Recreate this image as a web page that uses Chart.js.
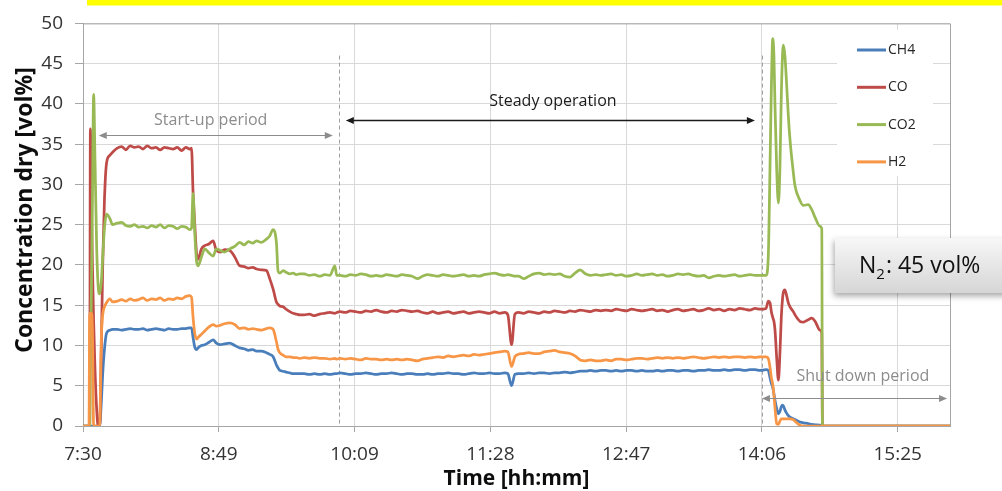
<!DOCTYPE html>
<html>
<head>
<meta charset="utf-8">
<script src="https://cdn.jsdelivr.net/npm/chart.js@4.4.1/dist/chart.umd.min.js"></script>
<style>
  html, body { margin: 0; padding: 0; background: #fff; }
  #wrap { width: 1002px; height: 491px; }
</style>
</head>
<body>
<div id="wrap"><canvas id="chart_gas" width="1002" height="491"></canvas></div>
<script>
/* time axis: minutes after 7:30 */
var minutes = [
  0, 3.5, 3.9, 4.3, 4.9, 5.5, 6.2, 7.0, 8.0, 8.8, 9.7, 10.7, 11.5, 12.5, 13.7, 15.6, 17.3,
  20, 22.5, 25, 27.5, 30, 32.5, 35, 37.5, 40, 42.5, 45, 47.5, 50, 52.5, 55, 57.5, 60, 62.3,
  63.3, 64.2, 65.2, 66.2, 67.1, 69.1, 71.0, 73.5, 75.9, 77.8, 80, 82.5, 85.6, 88.5, 91.4, 94, 96.5, 99, 101.2, 104, 107.0, 108.9, 110.9, 112.8, 113.8, 114.8, 116.7, 118.5, 120.6, 122.5, 124.5, 126.4,
  129, 132, 135, 138, 141, 144, 146.9, 148, 150, 153, 156, 159, 162, 165, 168, 171, 174, 177, 180, 183, 186, 189, 192, 195, 198, 201, 204, 207, 210, 213, 216, 219, 222, 225, 228, 231, 234, 237, 240, 243, 246, 247.8, 250, 251.9,
  254, 257, 260, 263, 266, 269, 272, 275, 278, 281, 284, 287, 290, 293, 296, 299, 302, 305, 308, 311, 314, 317, 320, 323, 326, 329, 332, 335, 338, 341, 344, 347, 350, 353, 356, 359, 362, 365, 368, 371, 374, 377, 380, 383, 386, 389, 392, 395,
  398.4, 399.7, 400.7, 401.5, 402.3, 403.0, 403.6, 404.6, 405.6, 406.5, 407.3, 408.1, 408.5, 409.4, 410.4, 411.4, 412.4, 414.3, 415.3, 418.2, 420.1, 423.0, 425.0, 427.0, 429.9, 430.9, 431.3, 440, 505.7
];
var ch4 = [
  0, 0, 0, 0, 0, 0, 0, 0, 0, 0, 0, 3, 6.5, 9.5, 11.5, 11.9, 12.0,
  12.0, 11.9, 12.0, 12.1, 12.0, 12.0, 12.1, 11.9, 12.0, 12.1, 12.0, 11.9, 12.1, 12.0, 12.0, 12.1, 12.1, 12.2,
  12.2, 11.0, 9.8, 9.5, 9.7, 10.0, 10.1, 10.4, 10.7, 10.3, 10.1, 10.2, 10.3, 10.0, 9.7, 9.6, 9.4, 9.5, 9.3, 9.3, 9.1, 8.9, 8.6, 7.6, 7.2, 6.9, 6.8, 6.7, 6.6, 6.5, 6.5, 6.5,
  6.5, 6.4, 6.5, 6.4, 6.5, 6.4, 6.5, 6.5, 6.6, 6.5, 6.4, 6.5, 6.5, 6.6, 6.5, 6.4, 6.5, 6.5, 6.6, 6.5, 6.4, 6.5, 6.5, 6.4, 6.4, 6.5, 6.4, 6.5, 6.5, 6.6, 6.5, 6.5, 6.4, 6.5, 6.6, 6.5, 6.5, 6.6, 6.5, 6.5, 6.6, 6.5, 5.0, 6.4,
  6.5, 6.5, 6.6, 6.5, 6.6, 6.6, 6.5, 6.6, 6.6, 6.7, 6.6, 6.7, 6.8, 6.8, 6.9, 6.8, 6.9, 6.9, 6.8, 6.9, 6.8, 6.9, 6.9, 6.8, 6.9, 6.8, 6.8, 6.9, 6.8, 6.9, 6.9, 6.8, 6.9, 6.9, 6.8, 6.9, 6.9, 7.0, 6.9, 6.9, 7.0, 6.9, 7.0, 7.0, 6.9, 7.0, 7.0, 6.9,
  7.0, 6.9, 6.0, 5.3, 4.8, 4.0, 3.2, 2.2, 1.5, 1.8, 2.4, 2.6, 2.5, 2.0, 1.6, 1.3, 1.1, 0.9, 0.8, 0.5, 0.4, 0.3, 0.2, 0.15, 0.1, 0.05, 0, 0, 0
];
var co = [
  0, 0, 0, 36.9, 28, 20, 13, 7, 2, 0, 0, 10, 20, 28, 32.6, 33.6, 34.0,
  34.5, 34.7, 34.3, 34.8, 34.6, 34.7, 34.4, 34.8, 34.5, 34.6, 34.3, 34.6, 34.5, 34.4, 34.6, 34.2, 34.6, 34.4,
  34.5, 29, 25, 21.5, 20.7, 22.0, 22.4, 22.6, 23.0, 21.8, 21.6, 21.9, 21.8, 21.0, 19.9, 19.8, 19.6, 19.7, 19.5, 19.4, 19.3, 18.3, 17.0, 15.4, 15.1, 14.9, 14.8, 14.5, 14.2, 14.0, 13.9, 13.8,
  13.8, 13.9, 13.7, 13.9, 14.0, 14.1, 14.0, 14.1, 14.2, 14.1, 14.3, 14.2, 14.1, 14.3, 14.2, 14.4, 14.2, 14.1, 14.3, 14.2, 14.4, 14.3, 14.2, 14.3, 14.1, 14.0, 14.2, 14.0, 14.1, 14.2, 14.0, 14.1, 14.2, 14.0, 14.1, 14.2, 14.1, 14.0, 14.2, 14.0, 14.1, 13.8, 10.1, 13.9,
  14.1, 14.0, 14.2, 14.1, 14.0, 14.2, 14.1, 14.3, 14.2, 14.1, 14.3, 14.2, 14.4, 14.3, 14.2, 14.4, 14.3, 14.4, 14.3, 14.5, 14.4, 14.3, 14.5, 14.4, 14.3, 14.4, 14.5, 14.3, 14.4, 14.2, 14.4, 14.5, 14.3, 14.4, 14.5, 14.3, 14.4, 14.6, 14.4, 14.5, 14.3, 14.5, 14.4, 14.6, 14.5, 14.4, 14.6, 14.5,
  14.6, 15.5, 15.3, 14.2, 13.5, 13.0, 12.0, 8.5, 5.7, 9.0, 13.5, 16.0, 16.6, 16.9, 16.2, 15.3, 14.8, 14.2, 13.8, 13.0, 12.9, 13.2, 13.4, 13.0, 11.9, 11.6, 0, 0, 0
];
var co2 = [
  0, 0, 0, 7, 17, 28, 41.2, 33, 22, 17.5, 16.4, 18, 21, 24.5, 26.3, 25.8, 25.0,
  25.2, 25.3, 24.9, 24.8, 25.0, 24.7, 24.8, 24.6, 24.9, 24.7, 25.0, 24.6, 24.9, 24.8, 24.5, 24.8, 24.7, 24.4,
  24.6, 28.9, 24.0, 20.5, 19.9, 21.0, 22.0, 21.5, 21.1, 22.0, 21.8, 21.6, 22.0, 22.3, 22.8, 22.5, 22.9, 22.7, 23.0, 22.8, 23.2, 23.6, 24.4, 22.8, 19.2, 19.0, 19.3, 19.1, 18.9, 19.0, 18.8, 18.9,
  18.9, 18.7, 18.8, 18.6, 18.8, 18.7, 19.9, 18.7, 18.7, 18.6, 18.8, 18.7, 18.9, 18.8, 18.6, 18.7, 18.6, 18.8, 18.7, 18.6, 18.8, 18.7, 18.6, 18.3, 18.6, 18.8, 18.7, 18.6, 18.8, 18.7, 18.6, 18.7, 18.8, 18.6, 18.7, 18.6, 18.8, 18.9, 19.0, 18.8, 18.7, 18.8, 18.7, 18.6,
  18.6, 18.3, 18.6, 18.9, 19.0, 18.8, 18.9, 18.8, 18.9, 18.6, 18.5, 19.0, 19.4, 18.9, 18.7, 18.8, 18.7, 18.8, 18.9, 18.7, 18.8, 18.6, 18.7, 18.9, 18.7, 18.8, 18.9, 18.7, 18.8, 18.6, 18.7, 18.9, 18.8, 18.9, 18.7, 18.6, 18.7, 18.4, 18.6, 18.7, 18.6, 18.7, 18.8, 18.6, 18.7, 18.8, 18.7, 18.7,
  18.7, 21, 32, 42, 48.1, 46, 40, 32, 27.7, 32, 41, 46.5, 47.3, 46, 42.5, 38.5, 35.5, 31.5, 29.8, 28.0, 27.4, 27.5, 26.9, 25.9, 24.8, 24.5, 0, 0, 0
];
var h2 = [
  0, 0, 14, 14, 14, 12, 0, 0, 0, 0, 0, 11, 13.8, 14.8, 15.3, 15.8, 15.4,
  15.5, 15.7, 15.5, 15.8, 15.6, 15.7, 15.9, 15.6, 15.8, 15.7, 15.9, 15.6, 15.8, 15.7, 15.9, 15.8, 16.1, 16.2,
  16.0, 13.5, 11.5, 10.8, 11.0, 11.4, 11.8, 12.3, 12.6, 12.4, 12.5, 12.7, 12.8, 12.6, 12.1, 12.2, 12.0, 12.1, 12.0, 11.9, 12.1, 12.2, 12.0, 10.5, 9.5, 9.1, 8.8, 8.6, 8.6, 8.5, 8.5, 8.4,
  8.5, 8.4, 8.5, 8.4, 8.4, 8.3, 8.4, 8.3, 8.4, 8.3, 8.4, 8.3, 8.2, 8.4, 8.3, 8.3, 8.2, 8.3, 8.2, 8.3, 8.2, 8.3, 8.2, 8.1, 8.3, 8.4, 8.5, 8.6, 8.5, 8.7, 8.6, 8.7, 8.8, 8.7, 8.9, 8.8, 8.9, 9.0, 9.1, 9.2, 9.3, 9.2, 7.4, 8.6,
  8.9, 9.0, 9.1, 9.0, 9.0, 9.2, 9.3, 9.4, 9.2, 9.1, 9.0, 8.7, 8.2, 8.1, 8.2, 8.1, 8.1, 8.2, 8.1, 8.3, 8.3, 8.2, 8.3, 8.4, 8.4, 8.3, 8.4, 8.5, 8.4, 8.5, 8.4, 8.5, 8.4, 8.5, 8.6, 8.5, 8.4, 8.5, 8.6, 8.5, 8.6, 8.5, 8.6, 8.6, 8.5, 8.6, 8.5, 8.6,
  8.6, 8.4, 7.3, 6.0, 5.2, 3.8, 2.3, 0.3, 0.2, 0.6, 0.9, 0.9, 0.9, 0.9, 0.9, 0.9, 0.9, 0.8, 0.6, 0.1, 0, 0, 0, 0, 0, 0, 0, 0, 0
];
var seriesNames = ["CH4", "CO", "CO2", "H2"];
var seriesColors = ["#4A7EBB", "#BE4B48", "#98B954", "#F79646"];
var tickMinutes = [0, 79.2, 158.4, 237.6, 316.8, 396, 475.2];
var tickLabels = ["7:30", "8:49", "10:09", "11:28", "12:47", "14:06", "15:25"];

/* phase markers (minutes, vol%) */
var phaseLines = [149.4, 396.2];
var phaseTop = 46;

var FONT = "'Open Sans', 'DejaVu Sans', sans-serif";

function pts(vals){
  return minutes.map(function(t, i){ return {x: t, y: vals[i]}; });
}

function arrowHead(ctx, x, y, dir){
  ctx.beginPath();
  ctx.moveTo(x, y);
  ctx.lineTo(x - dir * 8, y - 3.5);
  ctx.lineTo(x - dir * 8, y + 3.5);
  ctx.closePath();
  ctx.fill();
}

function dblArrow(ctx, x1, x2, y, color, w){
  ctx.save();
  ctx.strokeStyle = color; ctx.fillStyle = color; ctx.lineWidth = w;
  ctx.beginPath(); ctx.moveTo(x1 + 4, y); ctx.lineTo(x2 - 4, y); ctx.stroke();
  arrowHead(ctx, x1, y, -1);
  arrowHead(ctx, x2, y, 1);
  ctx.restore();
}

var decor = {
  id: 'decor',
  beforeDraw: function(chart){
    var ctx = chart.ctx;
    ctx.save(); ctx.fillStyle = '#fff'; ctx.fillRect(0, 0, chart.width, chart.height); ctx.restore();
  },
  beforeDatasetsDraw: function(chart){
    var ctx = chart.ctx, xs = chart.scales.x, ys = chart.scales.y;
    ctx.save();
    ctx.strokeStyle = '#A0A0A0'; ctx.lineWidth = 1; ctx.setLineDash([4, 3]);
    phaseLines.forEach(function(t){
      var x = Math.round(xs.getPixelForValue(t)) + 0.5;
      ctx.beginPath(); ctx.moveTo(x, ys.getPixelForValue(phaseTop)); ctx.lineTo(x, ys.getPixelForValue(0)); ctx.stroke();
    });
    ctx.restore();
  },
  afterDatasetsDraw: function(chart){
    var ctx = chart.ctx, xs = chart.scales.x, ys = chart.scales.y, a = chart.chartArea;
    // plot border top / right
    ctx.save();
    ctx.strokeStyle = '#A6A6A6'; ctx.lineWidth = 1;
    ctx.beginPath(); ctx.moveTo(a.left, a.top + 0.5); ctx.lineTo(a.right + 0.5, a.top + 0.5); ctx.lineTo(a.right + 0.5, a.bottom); ctx.stroke();
    ctx.restore();

    // phase labels
    ctx.save();
    ctx.font = '16px ' + FONT; ctx.textAlign = 'center'; ctx.textBaseline = 'middle';
    ctx.fillStyle = '#8C8C8C';
    ctx.fillText('Start-up period', xs.getPixelForValue(74.5), ys.getPixelForValue(38.0));
    dblArrow(ctx, xs.getPixelForValue(9.2), xs.getPixelForValue(145.7), Math.round(ys.getPixelForValue(36.2)) + 0.5, '#8C8C8C', 1.2);
    ctx.fillStyle = '#8C8C8C';
    ctx.fillText('Shut down period', xs.getPixelForValue(454.9), ys.getPixelForValue(6.2));
    dblArrow(ctx, xs.getPixelForValue(396), xs.getPixelForValue(504), Math.round(ys.getPixelForValue(3.5)) + 0.5, '#8C8C8C', 1.2);
    ctx.fillStyle = '#1A1A1A';
    ctx.fillText('Steady operation', xs.getPixelForValue(274.1), ys.getPixelForValue(40.3));
    dblArrow(ctx, xs.getPixelForValue(153.3), xs.getPixelForValue(391.9), Math.round(ys.getPixelForValue(38.0)) + 0.5, '#1A1A1A', 1.4);
    ctx.restore();

    // legend inside plot
    ctx.save();
    ctx.fillStyle = '#fff';
    ctx.fillRect(837, 30, 96, 146);
    ctx.font = '14px ' + FONT; ctx.textAlign = 'left'; ctx.textBaseline = 'middle';
    chart.data.datasets.forEach(function(ds, i){
      var y = 50 + i * 37.3;
      ctx.strokeStyle = ds.borderColor; ctx.lineWidth = 3;
      ctx.beginPath(); ctx.moveTo(857, y); ctx.lineTo(886, y); ctx.stroke();
      ctx.fillStyle = '#262626';
      ctx.fillText(ds.label, 888, y);
    });
    ctx.restore();
  },
  afterDraw: function(chart){
    var ctx = chart.ctx;
    // yellow band on top
    ctx.save();
    ctx.fillStyle = '#FFFF00';
    ctx.fillRect(87, 0, chart.width - 87, 5.5);

    // y title
    ctx.translate(25, 210);
    ctx.rotate(-Math.PI / 2);
    ctx.font = 'bold 23px ' + FONT; ctx.fillStyle = '#0D0D0D';
    ctx.textAlign = 'center'; ctx.textBaseline = 'middle';
    ctx.fillText('Concentration dry [vol%]', 0, 0);
    ctx.restore();

    // N2 box
    ctx.save();
    var bx = 835, by = 238, bw = 180, bh = 55;
    ctx.shadowColor = 'rgba(0,0,0,0.35)'; ctx.shadowBlur = 6; ctx.shadowOffsetX = -1; ctx.shadowOffsetY = 3;
    var g = ctx.createLinearGradient(0, by, 0, by + bh);
    g.addColorStop(0, '#F7F7F7'); g.addColorStop(1, '#D6D6D6');
    ctx.fillStyle = g;
    ctx.fillRect(bx, by, bw, bh);
    ctx.shadowColor = 'transparent';
    ctx.fillStyle = '#111';
    ctx.textBaseline = 'alphabetic'; ctx.textAlign = 'left';
    ctx.font = '23px ' + FONT;
    var x = 859;
    ctx.fillText('N', x, 272.7); x += ctx.measureText('N').width;
    ctx.font = '15px ' + FONT;
    ctx.fillText('2', x, 279); x += ctx.measureText('2').width;
    ctx.font = '23px ' + FONT;
    ctx.fillText(': 45 vol%', x + 1, 272.7);
    ctx.restore();
  }
};

var ctx = document.getElementById('chart_gas').getContext('2d');
var datasets = [ch4, co, co2, h2].map(function(vals, i){
  return {
    label: seriesNames[i],
    data: pts(vals),
    borderColor: seriesColors[i],
    backgroundColor: seriesColors[i],
    borderWidth: 2.75,
    pointRadius: 0,
    cubicInterpolationMode: 'monotone',
    borderJoinStyle: 'round',
    borderCapStyle: 'round',
    order: 4 - i
  };
});

var myChart = new Chart(ctx, {
  type: 'line',
  data: { datasets: datasets },
  options: {
    responsive: false,
    animation: false,
    devicePixelRatio: 1,
    layout: { padding: { top: 18, right: 52, left: 0, bottom: 0 } },
    plugins: { legend: { display: false }, tooltip: { enabled: false } },
    scales: {
      x: {
        type: 'linear', min: 0, max: 505.7,
        afterBuildTicks: function(s){ s.ticks = tickMinutes.map(function(v){ return {value: v}; }); },
        ticks: {
          autoSkip: false, maxRotation: 0, color: '#333', padding: 11,
          font: { family: FONT, size: 19 },
          callback: function(v, i){ return tickLabels[i]; }
        },
        grid: { color: '#D9D9D9', tickColor: '#A6A6A6', tickLength: 6 },
        border: { color: '#A6A6A6' },
        title: { display: true, text: 'Time [hh:mm]', color: '#0D0D0D', padding: { top: 0, bottom: -1 },
                 font: { family: FONT, size: 21, weight: 'bold' } },
        afterFit: function(s){ s.height = 65; }
      },
      y: {
        min: 0, max: 50,
        ticks: { stepSize: 5, color: '#333', padding: 12, font: { family: FONT, size: 19 } },
        grid: { color: '#D9D9D9', tickColor: '#A6A6A6', tickLength: 8 },
        border: { color: '#A6A6A6' },
        afterFit: function(s){ s.width = 83; }
      }
    }
  },
  plugins: [decor]
});
</script>
</body>
</html>
